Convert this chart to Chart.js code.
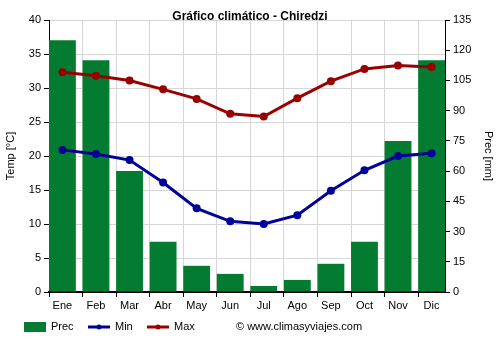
<!DOCTYPE html>
<html>
<head>
<meta charset="utf-8">
<script src="https://cdn.jsdelivr.net/npm/chart.js@4"></script>
<style>
  html, body { margin: 0; padding: 0; background: #fff; }
  #wrap { width: 500px; height: 350px; position: relative; }
</style>
</head>
<body>
<div id="wrap"><canvas id="climaChart" width="500" height="350"></canvas></div>
<script>
// Monthly climate data
const months = ['Ene', 'Feb', 'Mar', 'Abr', 'May', 'Jun', 'Jul', 'Ago', 'Sep', 'Oct', 'Nov', 'Dic'];
const prec = [125, 115, 60, 25, 13, 9, 3, 6, 14, 25, 75, 115];
const tempMin = [20.9, 20.3, 19.4, 16.1, 12.3, 10.4, 10.0, 11.3, 14.9, 17.9, 20.0, 20.4];
const tempMax = [32.3, 31.8, 31.1, 29.8, 28.4, 26.2, 25.8, 28.5, 31.0, 32.8, 33.3, 33.1];

const FONT = 'Arial, "Liberation Sans", sans-serif';
const GREEN = '#037c31';
const BLUE = '#000099';
const RED = '#990000';

const toXY = arr => arr.map((v, i) => ({ x: i, y: v }));

// title, axis titles, legend and credit line
const decorations = {
  id: 'decorations',
  afterDraw(chart) {
    const ctx = chart.ctx;
    ctx.save();
    ctx.fillStyle = '#000';
    ctx.textBaseline = 'middle';

    ctx.font = 'bold 12px ' + FONT;
    ctx.textAlign = 'center';
    ctx.fillText('Gráfico climático - Chiredzi', 250, 17);

    ctx.font = '11px ' + FONT;
    ctx.save();
    ctx.translate(11, 156);
    ctx.rotate(-Math.PI / 2);
    ctx.fillText('Temp [°C]', 0, 0);
    ctx.restore();

    ctx.save();
    ctx.translate(488, 156);
    ctx.rotate(Math.PI / 2);
    ctx.fillText('Prec [mm]', 0, 0);
    ctx.restore();

    // legend
    const ly = 327;
    ctx.textAlign = 'left';
    ctx.font = '11px ' + FONT;
    ctx.fillStyle = GREEN;
    ctx.fillRect(24, ly - 5, 22, 10);
    ctx.fillStyle = '#000';
    ctx.fillText('Prec', 51, ly);

    [[88, BLUE, 'Min'], [147, RED, 'Max']].forEach(([x, c, t]) => {
      ctx.strokeStyle = c;
      ctx.fillStyle = c;
      ctx.lineWidth = 3;
      ctx.beginPath();
      ctx.moveTo(x, ly);
      ctx.lineTo(x + 22, ly);
      ctx.stroke();
      ctx.beginPath();
      ctx.arc(x + 11, ly, 2.5, 0, Math.PI * 2);
      ctx.fill();
      ctx.fillStyle = '#000';
      ctx.fillText(t, x + 27, ly);
    });

    ctx.fillText('© www.climasyviajes.com', 236, ly);
    ctx.restore();
  }
};

new Chart(document.getElementById('climaChart'), {
  data: {
    datasets: [
      {
        type: 'line',
        label: 'Max',
        data: toXY(tempMax),
        yAxisID: 'y',
        borderColor: RED,
        backgroundColor: RED,
        borderWidth: 3,
        pointRadius: 4,
        pointBorderWidth: 0,
        pointHoverRadius: 4,
        tension: 0,
        order: 1
      },
      {
        type: 'line',
        label: 'Min',
        data: toXY(tempMin),
        yAxisID: 'y',
        borderColor: BLUE,
        backgroundColor: BLUE,
        borderWidth: 3,
        pointRadius: 4,
        pointBorderWidth: 0,
        pointHoverRadius: 4,
        tension: 0,
        order: 2
      },
      {
        type: 'bar',
        label: 'Prec',
        data: toXY(prec),
        yAxisID: 'y1',
        backgroundColor: GREEN,
        barPercentage: 0.8,
        categoryPercentage: 1,
        order: 3
      }
    ]
  },
  options: {
    responsive: false,
    animation: false,
    layout: { padding: { top: 20, left: 0, right: 0, bottom: 0 } },
    plugins: {
      legend: { display: false },
      tooltip: { enabled: false }
    },
    scales: {
      x: {
        type: 'linear',
        min: -0.4,
        max: 11.4,
        offset: false,
        afterBuildTicks: scale => {
          // grid lines sit at the left edge of each bar
          scale.ticks = months.map((m, i) => ({ value: i - 0.4 }));
        },
        afterFit: scale => { scale.height = 58; },
        grid: { color: '#d6d6d6', tickColor: '#000', tickLength: 5, offset: false },
        border: { color: '#000', width: 2 },
        ticks: {
          autoSkip: false,
          maxRotation: 0,
          labelOffset: 13.4,
          padding: 2,
          color: '#000',
          font: { family: FONT, size: 11 },
          callback: (v, i) => months[i]
        }
      },
      y: {
        position: 'left',
        min: 0,
        max: 40,
        afterFit: scale => { scale.width = 49; },
        ticks: { stepSize: 5, color: '#000', padding: 3, font: { family: FONT, size: 11 } },
        grid: { color: '#d6d6d6', tickColor: '#000', tickLength: 5 },
        border: { color: '#000', width: 1 }
      },
      y1: {
        position: 'right',
        min: 0,
        max: 135,
        afterFit: scale => { scale.width = 55; },
        afterBuildTicks: scale => {
          const t = [];
          for (let v = 0; v <= 135; v += 7.5) t.push({ value: v });
          scale.ticks = t;
        },
        ticks: {
          color: '#000',
          padding: 3,
          font: { family: FONT, size: 11 },
          callback: v => (v % 15 === 0 ? v : '')
        },
        grid: { drawOnChartArea: false, tickColor: '#000', tickLength: 5 },
        border: { color: '#000', width: 1 }
      }
    }
  },
  plugins: [decorations]
});
</script>
</body>
</html>
